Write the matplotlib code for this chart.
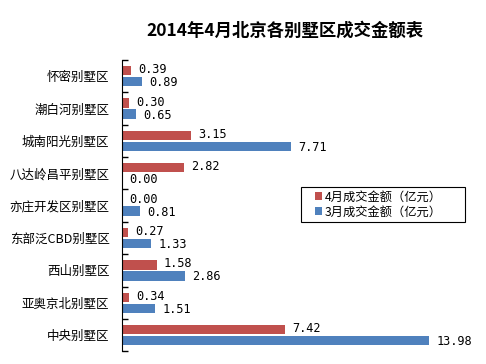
import numpy as np
import matplotlib.pyplot as plt
from matplotlib.patches import Rectangle

plt.rcParams['font.family'] = ['Noto Sans CJK SC', 'DejaVu Sans']

# categories listed top to bottom
districts = ['怀密别墅区', '潮白河别墅区', '城南阳光别墅区', '八达岭昌平别墅区',
             '亦庄开发区别墅区', '东部泛CBD别墅区', '西山别墅区', '亚奥京北别墅区',
             '中央别墅区']
april = [0.39, 0.30, 3.15, 2.82, 0.00, 0.27, 1.58, 0.34, 7.42]
march = [0.89, 0.65, 7.71, 0.00, 0.81, 1.33, 2.86, 1.51, 13.98]
april_label = '4月成交金额（亿元）'
march_label = '3月成交金额（亿元）'
title = '2014年4月北京各别墅区成交金额表'

red = '#C0504D'
blue = '#4F81BD'

fig = plt.figure(figsize=(4.86, 3.64), dpi=100)
ax = fig.add_axes([0.251, 0.035, 0.70, 0.80])

n = len(districts)
y = np.arange(n)
h = 0.29
off = 0.17

ax.barh(y - off, april, height=h, color=red, label=april_label)
ax.barh(y + off, march, height=h, color=blue, label=march_label)

for yi, v in zip(y, april):
    ax.text(v + 0.33, yi - off - 0.03, '%.2f' % v, va='center', ha='left',
            family='DejaVu Sans Mono', fontsize=8.6)
for yi, v in zip(y, march):
    ax.text(v + 0.33, yi + off + 0.03, '%.2f' % v, va='center', ha='left',
            family='DejaVu Sans Mono', fontsize=8.6)

ax.set_xlim(0, 15.5)
ax.set_ylim(n - 0.5, -0.5)

ax.set_yticks(y)
ax.set_yticklabels(districts, fontsize=9)
ax.set_yticks(np.arange(n + 1) - 0.5, minor=True)
ax.tick_params(axis='y', which='major', length=0, pad=9)
ax.tick_params(axis='y', which='minor', direction='in', length=4, width=1, color='black')
ax.set_xticks([])

for s in ['top', 'right', 'bottom']:
    ax.spines[s].set_visible(False)
ax.spines['left'].set_color('black')

fig.text(0.587, 0.917, title, ha='center', va='center', fontsize=12.5, fontweight='bold')

# legend without its own frame, boxed by a separate rectangle like the original
leg = fig.legend(loc='center left', bbox_to_anchor=(0.648, 0.438), fontsize=8.8,
                 frameon=False, handlelength=0.6, handleheight=0.6,
                 handletextpad=0.2, borderpad=0, labelspacing=0.15, borderaxespad=0)
fig.patches.append(Rectangle((0.619, 0.390), 0.337, 0.096, transform=fig.transFigure,
                             fill=False, edgecolor='black', linewidth=0.8))

fig.savefig('out.png', dpi=100)
